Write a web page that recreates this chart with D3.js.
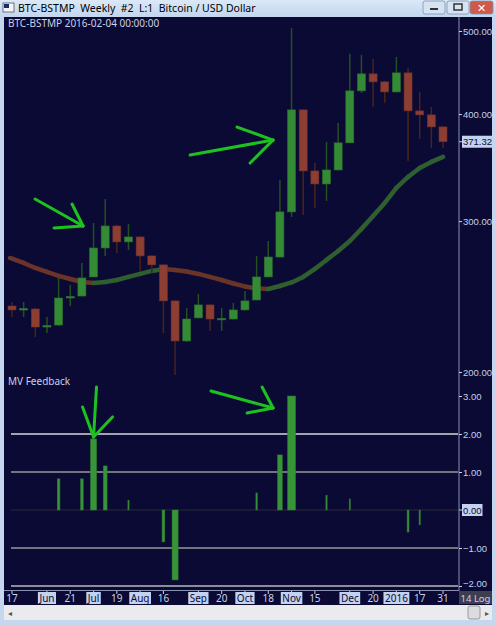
<!DOCTYPE html>
<html>
<head>
<meta charset="utf-8">
<script src="https://cdn.jsdelivr.net/npm/d3@7"></script>
<style>
  body { margin: 0; background: #c4d7ef; }
  svg { display: block; font-family: "Noto Sans", "DejaVu Sans", sans-serif; }
</style>
</head>
<body>
<svg width="496" height="625"></svg>
<script>
// weekly bars, BTC-BSTMP
const dates = ["2015-05-17","2015-05-24","2015-05-31","2015-06-07","2015-06-14","2015-06-21","2015-06-28",
  "2015-07-05","2015-07-12","2015-07-19","2015-07-26","2015-08-02","2015-08-09","2015-08-16","2015-08-23",
  "2015-08-30","2015-09-06","2015-09-13","2015-09-20","2015-09-27","2015-10-04","2015-10-11","2015-10-18",
  "2015-10-25","2015-11-01","2015-11-08","2015-11-15","2015-11-22","2015-11-29","2015-12-06","2015-12-13",
  "2015-12-20","2015-12-27","2016-01-03","2016-01-10","2016-01-17","2016-01-24","2016-01-31"];

const open  = [238.8,236.6,236.9,226.0,226.9,244.4,245.3,258.2,279.1,296.1,283.7,287.5,273.2,266.7,242.1,217.4,231.3,239.5,230.4,
  230.6,236.3,242.7,258.2,272.4,307.5,404.5,343.3,331.5,344.2,370.2,425.7,445.6,436.1,424.5,446.8,403.4,399.1,386.4];
const high  = [241.4,241.4,237.5,231.9,257.5,252.7,268.1,298.5,318.4,297.0,297.7,288.0,273.5,267.0,242.5,237.5,246.7,240.0,237.5,
  240.8,248.6,273.2,284.4,335.1,504.2,405.0,350.8,371.2,390.6,470.2,469.0,463.9,437.0,466.4,452.9,424.5,407.8,387.0];
const low   = [231.9,231.9,219.7,222.1,226.5,238.8,245.0,258.0,273.2,275.4,277.6,261.7,261.0,222.1,198.4,217.0,231.0,223.3,223.3,
  230.3,236.0,242.5,258.0,272.0,303.4,305.0,310.8,316.7,344.0,370.0,423.4,407.8,412.2,424.0,352.7,374.1,365.2,365.2];
const close = [236.3,237.2,225.7,226.6,244.0,245.0,257.5,279.1,296.1,283.7,287.5,273.2,266.7,242.1,217.4,230.6,239.5,230.6,231.0,
  236.3,242.1,258.2,272.4,307.5,404.5,343.3,331.5,344.2,370.2,425.7,445.6,436.1,424.5,446.8,403.4,399.1,386.4,371.32];

// moving average
const maValues = [271.7,268.1,264.5,261.7,258.9,256.8,254.7,254.1,254.7,256.1,258.2,260.3,262.4,263.8,263.1,262.0,260.3,258.2,256.1,
  253.7,251.7,250.3,250.0,252.0,254.4,258.2,263.8,270.3,276.9,284.4,293.8,304.2,315.0,328.0,337.8,346.1,351.7,356.5];

// MV Feedback indicator
const feedback = [0,0,0,0,0.82,0,0.82,1.87,1.16,0,0.26,0,0,-0.84,-1.84,0,0,0,0,0,0,0.45,0,1.45,3.0,0,0,0.39,0,0.29,
  0,0,0,0,-0.58,-0.39,0,0];

const tickDates  = ["2015-05-17","2015-06-07","2015-06-21","2015-07-05","2015-07-19","2015-08-02","2015-08-16","2015-09-06",
  "2015-09-20","2015-10-04","2015-10-18","2015-11-01","2015-11-15","2015-12-06","2015-12-20","2016-01-03","2016-01-17","2016-01-31"];
const tickLabels = ["17","Jun","21","Jul","19","Aug","16","Sep","20","Oct","18","Nov","15","Dec","20","2016","17","31"];
const boxedLabels = ["Jun","Jul","Aug","Sep","Oct","Nov","Dec","2016"];

const priceTicks = [200, 300, 400, 500];
const mvTicks = [-2, -1, 1, 2, 3];
const mvGrid = [2, 1, 0, -1, -2];

const svg = d3.select("svg");
const W = 496, H = 625;

const BG = "#0b0a34", UP = "#358a35", DOWN = "#8c3e33";
const TXT = "#c9d0e6";
const AXFONT = "Liberation Sans";

// window chrome
const grad = svg.append("defs").append("linearGradient").attr("id", "tb").attr("x1", 0).attr("x2", 0).attr("y1", 0).attr("y2", 1);
grad.append("stop").attr("offset", 0).attr("stop-color", "#dbe8f7");
grad.append("stop").attr("offset", 1).attr("stop-color", "#c2d6ee");
svg.append("rect").attr("width", W).attr("height", H).attr("fill", "#c4d7ef");
svg.append("rect").attr("width", W).attr("height", 17).attr("fill", "url(#tb)");

// app icon
svg.append("rect").attr("x", 3).attr("y", 3).attr("width", 11).attr("height", 9).attr("fill", "#f4f4f4").attr("stroke", "#556").attr("stroke-width", 0.8);
svg.append("rect").attr("x", 4).attr("y", 4).attr("width", 5).attr("height", 4).attr("fill", "#1a2a6a");
svg.append("text").attr("x", 18).attr("y", 12).attr("font-size", 10.5).attr("fill", "#000")
  .attr("xml:space", "preserve")
  .text("BTC-BSTMP  Weekly  #2  L:1  Bitcoin / USD Dollar");

// caption buttons
const btns = [{x: 423, w: 22, fill: "#d6e3f3"}, {x: 447, w: 22, fill: "#d6e3f3"}, {x: 470, w: 23, fill: "#cf5a4c"}];
svg.selectAll(".btn").data(btns).join("rect")
  .attr("x", d => d.x).attr("y", 1).attr("width", d => d.w).attr("height", 13).attr("rx", 2)
  .attr("fill", d => d.fill).attr("stroke", "#7f93ad").attr("stroke-width", 0.8);
svg.append("rect").attr("x", 430).attr("y", 8).attr("width", 8).attr("height", 2).attr("fill", "#333");
svg.append("rect").attr("x", 454).attr("y", 4).attr("width", 8).attr("height", 6).attr("fill", "none").attr("stroke", "#333").attr("stroke-width", 1.5);
svg.append("text").attr("x", 481.5).attr("y", 12).attr("text-anchor", "middle").attr("font-size", 11).attr("font-weight", "bold").attr("fill", "#fff").text("✕");

// chart background
svg.append("rect").attr("x", 4).attr("y", 17).attr("width", 488).attr("height", 588).attr("fill", BG);

// scrollbar
svg.append("rect").attr("x", 4).attr("y", 605).attr("width", 488).attr("height", 15).attr("fill", "#ebebee");
svg.append("text").attr("x", 8).attr("y", 616).attr("font-size", 8).attr("fill", "#555").text("◂");
svg.append("text").attr("x", 485).attr("y", 616).attr("font-size", 8).attr("fill", "#555").text("▸");
svg.append("rect").attr("x", 468).attr("y", 606).attr("width", 12).attr("height", 13).attr("rx", 2).attr("fill", "#dcdce0").attr("stroke", "#999");

// scales
const x = d3.scalePoint().domain(dates).range([12, 443]);
const yPrice = d3.scaleLog().domain([200, 500]).range([372, 31]);
const yMv = d3.scaleLinear().domain([-2, 3]).range([586, 396]);

const bars = dates.map((d, i) => ({date: d, o: open[i], h: high[i], l: low[i], c: close[i], ma: maValues[i], mv: feedback[i]}));

// header
svg.append("text").attr("x", 8).attr("y", 27).attr("font-size", 10).attr("fill", TXT).text("BTC-BSTMP 2016-02-04 00:00:00");
svg.append("text").attr("x", 8).attr("y", 385).attr("font-size", 10).attr("fill", TXT).text("MV Feedback");

// moving average, coloured by direction
const maSeg = d3.pairs(bars);
svg.append("g").selectAll("line").data(maSeg).join("line")
  .attr("x1", d => x(d[0].date) - (d[0] === bars[0] ? 2 : 0)).attr("y1", d => yPrice(d[0].ma))
  .attr("x2", d => x(d[1].date)).attr("y2", d => yPrice(d[1].ma))
  .attr("stroke", d => d[1].ma >= d[0].ma ? "#2f5f2f" : "#6a3428")
  .attr("stroke-width", 4.5).attr("stroke-linecap", "round");

// candles
const candle = svg.append("g").selectAll("g").data(bars).join("g");
candle.append("line")
  .attr("x1", d => x(d.date)).attr("x2", d => x(d.date))
  .attr("y1", d => yPrice(d.h)).attr("y2", d => yPrice(d.l))
  .attr("stroke", d => d.c >= d.o ? "#24501f" : "#4a231d").attr("stroke-width", 1.5);
candle.append("rect")
  .attr("x", d => x(d.date) - 4).attr("width", 8)
  .attr("y", d => yPrice(Math.max(d.o, d.c)))
  .attr("height", d => Math.max(1.5, yPrice(Math.min(d.o, d.c)) - yPrice(Math.max(d.o, d.c))))
  .attr("fill", d => d.c >= d.o ? UP : DOWN)
  .attr("stroke", d => d.c >= d.o ? "#2c6e2c" : "#6f3028").attr("stroke-width", 0.6);

// MV feedback grid
svg.append("g").selectAll("line").data(mvGrid).join("line")
  .attr("x1", 11).attr("x2", 458)
  .attr("y1", d => yMv(d)).attr("y2", d => yMv(d))
  .attr("stroke", d => d === 0 ? "#2b2b3c" : d === 2 ? "#a4a4ac" : d === -2 ? "#8c8c94" : "#74747c")
  .attr("stroke-width", d => d === 0 ? 1 : 2);

// MV feedback bars
const barW = v => Math.max(1.2, Math.min(8, Math.abs(v) * 3.3));
svg.append("g").selectAll("rect").data(bars.filter(d => d.mv !== 0)).join("rect")
  .attr("x", d => x(d.date) - barW(d.mv) / 2)
  .attr("width", d => barW(d.mv))
  .attr("y", d => yMv(Math.max(0, d.mv)))
  .attr("height", d => Math.abs(yMv(d.mv) - yMv(0)))
  .attr("fill", "#389438").attr("stroke", "#2c782c").attr("stroke-width", 0.5);

// panel borders
svg.append("line").attr("x1", 459).attr("x2", 459).attr("y1", 17).attr("y2", 591).attr("stroke", "#8a92b4").attr("stroke-width", 1);
svg.append("line").attr("x1", 4).attr("x2", 459).attr("y1", 590.5).attr("y2", 590.5).attr("stroke", "#8a92b4").attr("stroke-width", 1);

// right axes
const priceAxis = svg.append("g").attr("transform", "translate(459,0)")
  .call(d3.axisRight(yPrice).tickValues(priceTicks).tickFormat(d3.format(".2f")).tickSize(3));
const mvAxis = svg.append("g").attr("transform", "translate(459,0)")
  .call(d3.axisRight(yMv).tickValues(mvTicks).tickFormat(d3.format(".2f")).tickSize(3));
[priceAxis, mvAxis].forEach(a => {
  a.select(".domain").remove();
  a.selectAll("line").attr("stroke", TXT);
  a.selectAll("text").attr("fill", TXT).attr("font-size", 9.5).attr("font-family", AXFONT).attr("x", 4);
});
// lowest label sits partly under the time axis strip
mvAxis.selectAll(".tick").filter(d => d === -2).select("text").attr("dy", "0.1em");

// value tags
function tag(yv, label) {
  const g = svg.append("g").attr("transform", `translate(459,${yv})`);
  g.append("line").attr("x1", 0).attr("x2", 3).attr("stroke", TXT);
  const t = g.append("text").attr("x", 4).attr("y", 3.5).attr("font-size", 9.5).attr("font-family", AXFONT)
    .attr("fill", "#0b0a34").text(label);
  const w = t.node().getComputedTextLength();
  g.insert("rect", "text").attr("x", 3).attr("y", -6).attr("width", w + 2).attr("height", 12).attr("fill", "#c3d2ee");
}
tag(yPrice(close[close.length - 1]), d3.format(".2f")(close[close.length - 1]));
tag(yMv(0), d3.format(".2f")(0));

// bottom time axis
const xa = svg.append("g");
const tk = xa.selectAll("g").data(tickDates).join("g").attr("transform", d => `translate(${x(d)},0)`);
tk.append("line").attr("y1", 591).attr("y2", 594).attr("stroke", TXT);
tk.each(function(d, i) {
  const g = d3.select(this), lab = tickLabels[i];
  const t = g.append("text").attr("y", 601.5).attr("text-anchor", "middle").attr("font-size", 10).text(lab);
  if (boxedLabels.includes(lab)) {
    const w = t.node().getComputedTextLength() + 3;
    g.insert("rect", "text").attr("x", -w / 2).attr("y", 592).attr("width", w).attr("height", 12).attr("fill", "#c3d2ee");
    t.attr("fill", "#0b0a34");
  } else {
    t.attr("fill", TXT);
  }
});
svg.append("rect").attr("x", 459).attr("y", 591).attr("width", 33).attr("height", 13).attr("fill", "#3e3e50");
svg.append("text").attr("x", 475.5).attr("y", 602).attr("text-anchor", "middle").attr("font-size", 9.5).attr("fill", TXT).text("14 Log");

// hand drawn arrows
const arrows = [
  {tx: x(dates[7]) - 10.5, ty: yPrice(high[7]) + 3, pts: [[-48, -27], [-11, -22], [-29, 2]]},
  {tx: x(dates[24]) - 18.5, ty: yPrice(373), pts: [[-83, 15], [-36, -13], [-23, 23]]},
  {tx: x(dates[7]), ty: yMv(feedback[7]) - 2, pts: [[3, -50], [-11, -30], [19, -20]]},
  {tx: x(dates[24]) - 18.5, ty: yMv(feedback[24]) + 12, pts: [[-62, -17], [-11, -21], [-26, 5]]}
];
const ag = svg.append("g").attr("stroke", "#1ec21e").attr("stroke-width", 3).attr("stroke-linecap", "round").attr("fill", "none");
arrows.forEach(a => {
  a.pts.forEach(p => {
    ag.append("line").attr("x1", a.tx + p[0]).attr("y1", a.ty + p[1]).attr("x2", a.tx).attr("y2", a.ty);
  });
});
</script>
</body>
</html>
